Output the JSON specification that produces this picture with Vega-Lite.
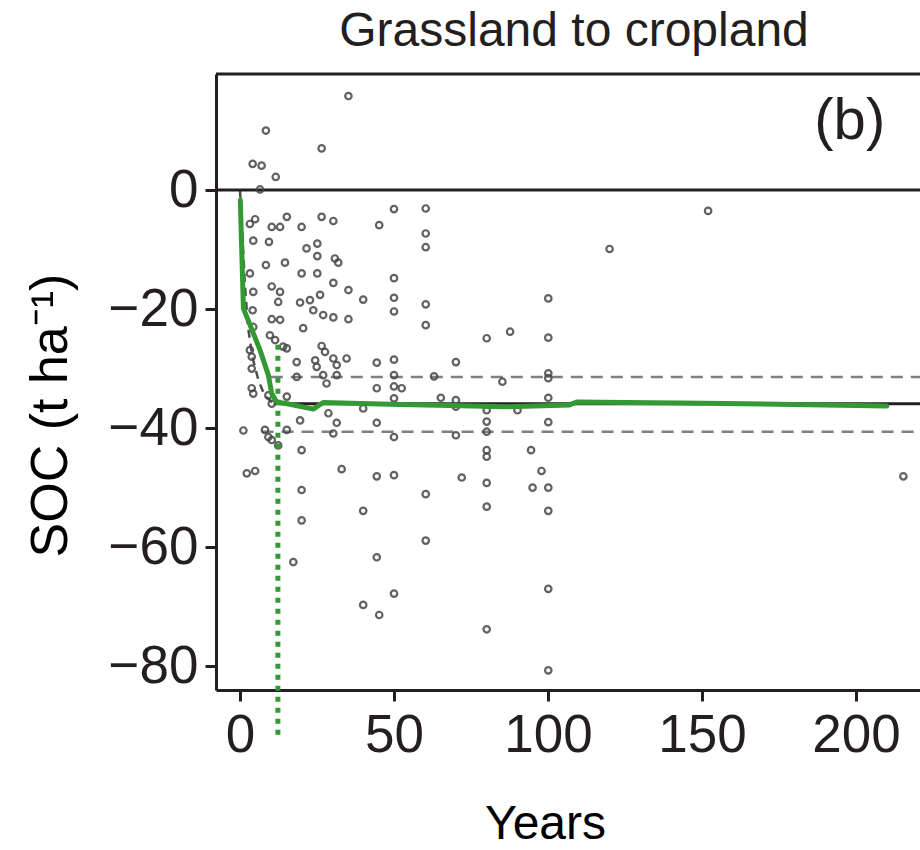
{
  "$schema": "https://vega.github.io/schema/vega-lite/v6.json",
  "autosize": {"type": "none"},
  "width": 704,
  "height": 616,
  "padding": {"left": 216, "top": 74, "right": 0, "bottom": 160},
  "background": "white",
  "config": {
    "view": {"stroke": null},
    "font": "Liberation Sans",
    "axis": {"grid": false, "domainColor": "#231f20", "domainWidth": 3, "tickColor": "#231f20", "tickWidth": 3, "tickSize": 11, "labelColor": "#231f20", "titleColor": "#000000", "labelFont": "Liberation Sans", "titleFont": "Liberation Sans", "titleFontWeight": "normal"}
  },
  "title": {"text": "Grassland to cropland", "fontSize": 48, "font": "Liberation Sans", "fontWeight": "normal", "color": "#231f20", "anchor": "middle", "offset": 17, "dx": 6},
  "datasets": {
    "pts": [
      {"yr": 35.2, "soc": 15.8}, {"yr": 8.4, "soc": 10.0}, {"yr": 26.5, "soc": 7.0}, {"yr": 4.1, "soc": 4.4}, {"yr": 7.0, "soc": 4.1},
      {"yr": 11.6, "soc": 2.2}, {"yr": 6.5, "soc": 0.1}, {"yr": 4.9, "soc": -4.9}, {"yr": 3.2, "soc": -5.7}, {"yr": 15.2, "soc": -4.5},
      {"yr": 10.3, "soc": -6.2}, {"yr": 13.0, "soc": -6.2}, {"yr": 20.0, "soc": -6.2}, {"yr": 26.5, "soc": -4.5}, {"yr": 30.3, "soc": -5.2},
      {"yr": 45.2, "soc": -5.9}, {"yr": 4.3, "soc": -8.5}, {"yr": 9.4, "soc": -8.7}, {"yr": 21.6, "soc": -9.8}, {"yr": 25.1, "soc": -9.0},
      {"yr": 50, "soc": -3.2}, {"yr": 60.3, "soc": -3.1}, {"yr": 60.3, "soc": -7.3}, {"yr": 60.3, "soc": -9.6}, {"yr": 152, "soc": -3.5},
      {"yr": 120, "soc": -9.9}, {"yr": 25.1, "soc": -11.1}, {"yr": 30.8, "soc": -11.5}, {"yr": 31.9, "soc": -12.2}, {"yr": 8.4, "soc": -12.6},
      {"yr": 14.6, "soc": -12.2}, {"yr": 20, "soc": -14}, {"yr": 25.1, "soc": -14}, {"yr": 30.3, "soc": -15.6}, {"yr": 35.2, "soc": -16.8},
      {"yr": 40, "soc": -18.4}, {"yr": 10.3, "soc": -16.2}, {"yr": 13, "soc": -17.1}, {"yr": 12.4, "soc": -18.8}, {"yr": 19.5, "soc": -18.9},
      {"yr": 22.7, "soc": -18.5}, {"yr": 23.8, "soc": -20.2}, {"yr": 26, "soc": -17.6}, {"yr": 27, "soc": -21}, {"yr": 30.3, "soc": -21.4},
      {"yr": 35.2, "soc": -21.7}, {"yr": 10.3, "soc": -21.7}, {"yr": 13, "soc": -21.8}, {"yr": 4.1, "soc": -20.2}, {"yr": 3.2, "soc": -14},
      {"yr": 20.5, "soc": -23.2}, {"yr": 9.7, "soc": -24.4}, {"yr": 15.2, "soc": -26.6}, {"yr": 26.5, "soc": -26.2}, {"yr": 27.6, "soc": -27.2},
      {"yr": 18.4, "soc": -28.9}, {"yr": 24.4, "soc": -28.6}, {"yr": 24.9, "soc": -29.7}, {"yr": 30.3, "soc": -28.3}, {"yr": 31.4, "soc": -29.4},
      {"yr": 34.6, "soc": -28.3}, {"yr": 44.4, "soc": -29}, {"yr": 3.2, "soc": -26.9}, {"yr": 3.8, "soc": -28}, {"yr": 3.8, "soc": -30},
      {"yr": 27, "soc": -31.1}, {"yr": 28.1, "soc": -32.5}, {"yr": 31.4, "soc": -31.1}, {"yr": 18.4, "soc": -31.4}, {"yr": 44.4, "soc": -33.3},
      {"yr": 40, "soc": -36.7}, {"yr": 28.7, "soc": -37.5}, {"yr": 19.5, "soc": -38.7}, {"yr": 31.4, "soc": -39.1}, {"yr": 44.4, "soc": -39.1},
      {"yr": 1.1, "soc": -40.4}, {"yr": 8.1, "soc": -40.3}, {"yr": 9.2, "soc": -41.5}, {"yr": 10.3, "soc": -42}, {"yr": 15.2, "soc": -40.3},
      {"yr": 30.3, "soc": -40.9}, {"yr": 20, "soc": -43.7}, {"yr": 3.8, "soc": -33.3}, {"yr": 4.3, "soc": -34.2}, {"yr": 9.2, "soc": -34.5},
      {"yr": 10.3, "soc": -35.9}, {"yr": 15.2, "soc": -34.7}, {"yr": 11.4, "soc": -25.2}, {"yr": 14, "soc": -26.3}, {"yr": 4.3, "soc": -17.1},
      {"yr": 4.3, "soc": -23}, {"yr": 12.4, "soc": -42.9}, {"yr": 2.2, "soc": -47.6}, {"yr": 4.9, "soc": -47.2}, {"yr": 33, "soc": -46.9},
      {"yr": 44.4, "soc": -48.1}, {"yr": 20, "soc": -50.4}, {"yr": 40, "soc": -53.9}, {"yr": 20, "soc": -55.5}, {"yr": 17.3, "soc": -62.5},
      {"yr": 44.4, "soc": -61.7}, {"yr": 40, "soc": -69.7}, {"yr": 45.2, "soc": -71.4}, {"yr": 50, "soc": -14.8}, {"yr": 50, "soc": -18.1},
      {"yr": 50, "soc": -20.4}, {"yr": 60.3, "soc": -19.2}, {"yr": 60.3, "soc": -22.7}, {"yr": 100.1, "soc": -18.2}, {"yr": 87.7, "soc": -23.8},
      {"yr": 80.1, "soc": -24.9}, {"yr": 100.1, "soc": -24.8}, {"yr": 70.1, "soc": -28.9}, {"yr": 50, "soc": -28.5}, {"yr": 50, "soc": -31.1},
      {"yr": 63, "soc": -31.3}, {"yr": 50, "soc": -33}, {"yr": 52.5, "soc": -33.3}, {"yr": 85.2, "soc": -32.2}, {"yr": 100.1, "soc": -30.8},
      {"yr": 100.1, "soc": -31.6}, {"yr": 50, "soc": -35}, {"yr": 65.2, "soc": -34.9}, {"yr": 70.1, "soc": -35.3}, {"yr": 70.1, "soc": -36.4},
      {"yr": 100.1, "soc": -34.9}, {"yr": 80.1, "soc": -37}, {"yr": 90.1, "soc": -37}, {"yr": 80.1, "soc": -38.9}, {"yr": 80.1, "soc": -40.6},
      {"yr": 100.1, "soc": -39}, {"yr": 50, "soc": -41.5}, {"yr": 70.1, "soc": -41.2}, {"yr": 80.1, "soc": -43.7}, {"yr": 80.1, "soc": -44.8},
      {"yr": 94.5, "soc": -43.7}, {"yr": 50, "soc": -47.9}, {"yr": 72, "soc": -48.3}, {"yr": 80.1, "soc": -49.2}, {"yr": 97.9, "soc": -47.2},
      {"yr": 95, "soc": -50}, {"yr": 100.1, "soc": -50}, {"yr": 60.3, "soc": -51.1}, {"yr": 100.1, "soc": -53.9}, {"yr": 80.1, "soc": -53.2},
      {"yr": 60.3, "soc": -58.9}, {"yr": 50, "soc": -67.8}, {"yr": 100.1, "soc": -67}, {"yr": 80.1, "soc": -73.8}, {"yr": 100.1, "soc": -80.7},
      {"yr": 215.4, "soc": -48.1}
    ],
    "green": [
      {"yr": 0.1, "soc": -1.7}, {"yr": 1.1, "soc": -19.9}, {"yr": 2.2, "soc": -21.3}, {"yr": 6.5, "soc": -26.9}, {"yr": 9.2, "soc": -31.1},
      {"yr": 10.3, "soc": -34.2}, {"yr": 11.9, "soc": -35.6}, {"yr": 16.2, "soc": -36.0}, {"yr": 23.8, "soc": -36.8}, {"yr": 27, "soc": -35.7},
      {"yr": 48.7, "soc": -36.0}, {"yr": 86.6, "soc": -36.4}, {"yr": 107, "soc": -36.1}, {"yr": 109.3, "soc": -35.6}, {"yr": 150.3, "soc": -35.8},
      {"yr": 210, "soc": -36.3}
    ],
    "fit": [
      {"yr": 0, "soc": 0}, {"yr": 0.8, "soc": -8}, {"yr": 1.6, "soc": -16}, {"yr": 2.6, "soc": -23}, {"yr": 4, "soc": -28},
      {"yr": 6, "soc": -32}, {"yr": 8, "soc": -34.5}, {"yr": 11, "soc": -36}
    ],
    "bands": [
      {"band": "upper", "yr": 10, "soc": -31.4}, {"band": "upper", "yr": 220.8, "soc": -31.4},
      {"band": "lower", "yr": 7, "soc": -40.6}, {"band": "lower", "yr": 220.8, "soc": -40.6}
    ],
    "hlines": [
      {"soc": 0}, {"soc": 19.5}
    ],
    "meanline": [
      {"yr": 11, "yr2": 220.8, "soc": -35.9}
    ],
    "dotted": [
      {"yr": 12.3, "soc": -26, "soc2": -91.6}
    ],
    "panel": [
      {"yr": 209.5, "soc": 11.5, "lab": "(b)"}
    ]
  },
  "layer": [
    {
      "data": {"name": "hlines"},
      "mark": {"type": "rule", "color": "#231f20", "strokeWidth": 3},
      "encoding": {"y": {"field": "soc", "type": "quantitative", "scale": {"domain": [-84, 19.5], "nice": false, "zero": false}}}
    },
    {
      "data": {"name": "bands"},
      "mark": {"type": "line", "color": "#7f7f7f", "strokeWidth": 2.5, "strokeDash": [12, 8]},
      "encoding": {
        "x": {"field": "yr", "type": "quantitative"},
        "y": {"field": "soc", "type": "quantitative"},
        "detail": {"field": "band"}
      }
    },
    {
      "data": {"name": "meanline"},
      "mark": {"type": "rule", "color": "#231f20", "strokeWidth": 3},
      "encoding": {"x": {"field": "yr", "type": "quantitative"}, "x2": {"field": "yr2"}, "y": {"field": "soc", "type": "quantitative"}}
    },
    {
      "data": {"name": "fit"},
      "mark": {"type": "line", "color": "#231f20", "strokeWidth": 2.5, "strokeDash": [8, 6], "opacity": 0.8},
      "encoding": {
        "x": {"field": "yr", "type": "quantitative"},
        "y": {"field": "soc", "type": "quantitative"}
      }
    },
    {
      "data": {"name": "pts"},
      "mark": {"type": "point", "shape": "circle", "filled": false, "size": 42, "strokeWidth": 2.2, "color": "#474747", "opacity": 0.85},
      "encoding": {
        "x": {
          "field": "yr", "type": "quantitative",
          "scale": {"domain": [-7.8, 220.8], "nice": false, "zero": false},
          "axis": {"values": [0, 50, 100, 150, 200], "labelFontSize": 53, "labelPadding": 8, "title": "Years", "titleFontSize": 48, "titleX": 329, "titleY": 134, "titleBaseline": "middle", "titleAlign": "center"}
        },
        "y": {
          "field": "soc", "type": "quantitative",
          "axis": {"values": [0, -20, -40, -60, -80], "labelFontSize": 53, "labelPadding": 7, "title": "SOC (t ha⁻¹)", "titleFontSize": 52, "titleX": -166, "titleY": 341, "titleAngle": -90, "titleBaseline": "middle", "titleAlign": "center"}
        }
      }
    },
    {
      "data": {"name": "green"},
      "mark": {"type": "line", "color": "#339933", "strokeWidth": 5, "strokeCap": "round", "strokeJoin": "round"},
      "encoding": {
        "x": {"field": "yr", "type": "quantitative"},
        "y": {"field": "soc", "type": "quantitative"}
      }
    },
    {
      "data": {"name": "dotted"},
      "mark": {"type": "rule", "color": "#339933", "strokeWidth": 5, "strokeDash": [5, 6], "clip": false},
      "encoding": {"x": {"field": "yr", "type": "quantitative"}, "y": {"field": "soc", "type": "quantitative"}, "y2": {"field": "soc2"}}
    },
    {
      "data": {"name": "panel"},
      "mark": {"type": "text", "fontSize": 58, "font": "Liberation Sans", "color": "#231f20", "align": "right", "baseline": "middle"},
      "encoding": {"x": {"field": "yr", "type": "quantitative"}, "y": {"field": "soc", "type": "quantitative"}, "text": {"field": "lab"}}
    }
  ]
}
